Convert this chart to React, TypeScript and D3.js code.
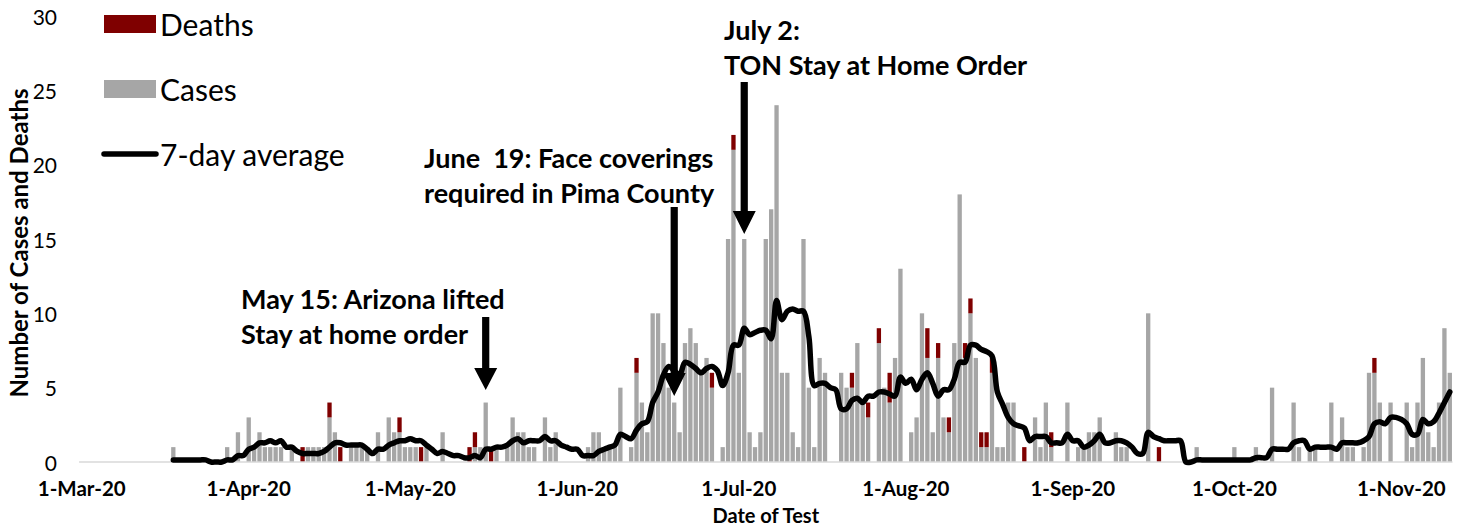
import React from "react";
import * as d3 from "d3";

// ---------- DATA ----------
const START_DATE = new Date(2020, 2, 1); // 1-Mar-20, index 0

// daily cases, index 0 = 1-Mar-20 ... index 254 = 10-Nov-20
const cases = [
  0, 0, 0, 0, 0, 0, 0, 0, 0, 0,
  0, 0, 0, 0, 0, 0, 0, 1, 0, 0,
  0, 0, 0, 0, 0, 0, 0, 1, 0, 2,
  0, 3, 1, 2, 1, 1, 1, 1, 0, 1,
  0, 0, 1, 1, 1, 1, 3, 2, 0, 0,
  1, 1, 1, 1, 0, 2, 0, 3, 2, 2,
  1, 1, 1, 0, 1, 0, 0, 2, 0, 0,
  0, 0, 0, 1, 1, 4, 0, 1, 0, 1,
  3, 2, 2, 1, 1, 0, 3, 1, 2, 0,
  0, 0, 0, 0, 1, 2, 2, 1, 1, 1,
  5, 0, 1, 6, 4, 2, 10, 10, 8, 5,
  4, 2, 8, 9, 8, 6, 7, 5, 0, 1,
  15, 21, 6, 15, 2, 1, 2, 15, 17, 24,
  6, 6, 2, 1, 15, 5, 1, 7, 6, 0,
  0, 6, 5, 5, 8, 4, 3, 0, 8, 5,
  4, 7, 13, 0, 2, 3, 10, 7, 2, 7,
  3, 2, 8, 18, 7, 10, 7, 1, 1, 6,
  1, 1, 4, 4, 0, 0, 0, 3, 1, 4,
  1, 0, 0, 4, 0, 1, 1, 2, 2, 3,
  0, 0, 2, 1, 1, 0, 0, 0, 10, 0,
  0, 0, 0, 0, 0, 0, 0, 1, 0, 0,
  0, 0, 0, 0, 1, 0, 0, 0, 1, 0,
  0, 5, 0, 0, 0, 4, 1, 0, 1, 1,
  0, 0, 4, 0, 3, 1, 1, 0, 1, 6,
  6, 4, 0, 4, 0, 0, 4, 1, 4, 7,
  2, 1, 4, 9, 6,
];

// daily deaths, same indexing
const deaths = [
  0, 0, 0, 0, 0, 0, 0, 0, 0, 0,
  0, 0, 0, 0, 0, 0, 0, 0, 0, 0,
  0, 0, 0, 0, 0, 0, 0, 0, 0, 0,
  0, 0, 0, 0, 0, 0, 0, 0, 0, 0,
  0, 1, 0, 0, 0, 0, 1, 0, 1, 0,
  0, 0, 0, 0, 0, 0, 0, 0, 0, 1,
  0, 0, 0, 1, 0, 0, 0, 0, 0, 0,
  0, 0, 1, 1, 0, 0, 1, 0, 0, 0,
  0, 0, 0, 0, 0, 0, 0, 0, 0, 0,
  0, 0, 0, 0, 0, 0, 0, 0, 0, 0,
  0, 0, 0, 1, 0, 0, 0, 0, 0, 0,
  0, 0, 0, 0, 0, 0, 0, 1, 0, 0,
  0, 1, 0, 0, 0, 0, 0, 0, 0, 0,
  0, 0, 0, 0, 0, 0, 0, 0, 0, 0,
  0, 0, 0, 1, 0, 0, 1, 0, 1, 0,
  2, 0, 0, 0, 0, 0, 0, 2, 0, 1,
  0, 1, 0, 0, 1, 1, 0, 1, 1, 1,
  0, 0, 0, 0, 0, 1, 0, 0, 0, 0,
  1, 0, 0, 0, 0, 0, 0, 0, 0, 0,
  0, 0, 0, 0, 0, 0, 0, 0, 0, 0,
  1, 0, 0, 0, 0, 0, 0, 0, 0, 0,
  0, 0, 0, 0, 0, 0, 0, 0, 0, 0,
  0, 0, 0, 0, 0, 0, 0, 0, 0, 0,
  0, 0, 0, 0, 0, 0, 0, 0, 0, 0,
  1, 0, 0, 0, 0, 0, 0, 0, 0, 0,
  0, 0, 0, 0, 0,
];

// 7-day average line, starting at index 17 (18-Mar-20)
const AVG_FIRST_INDEX = 17;
const sevenDayAverage = [
  0.14, 0.14, 0.14,
  0.14, 0.14, 0.14, 0.14, 0, 0, 0, 0.14, 0.14, 0.43,
  0.43, 0.86, 1.0, 1.29, 1.29, 1.43, 1.29, 1.43, 1.0, 1.0,
  0.71, 0.57, 0.57, 0.57, 0.57, 0.71, 1.0, 1.29, 1.29, 1.14,
  1.14, 1.14, 1.14, 0.86, 0.57, 0.86, 0.86, 1.14, 1.29, 1.43,
  1.43, 1.57, 1.43, 1.43, 1.14, 0.86, 0.57, 0.71, 0.57, 0.43,
  0.43, 0.29, 0.29, 0.43, 0.29, 0.86, 0.86, 1.0, 1.0, 1.14,
  1.43, 1.57, 1.29, 1.43, 1.43, 1.43, 1.71, 1.43, 1.43, 1.14,
  1.0, 0.86, 0.86, 0.43, 0.43, 0.43, 0.71, 0.86, 1.0, 1.14,
  1.86, 1.71, 1.57, 2.14, 2.57, 2.71, 4.0, 4.71, 5.86, 6.43,
  6.14, 5.86, 6.71, 6.57, 6.29, 6.0, 6.29, 6.43, 6.14, 5.14,
  6.0, 7.86, 7.86, 9.0, 8.57, 8.71, 8.86, 8.86, 8.29, 10.86,
  9.57, 10.14, 10.29, 10.14, 10.14, 8.43, 5.14, 5.29, 5.29, 5.0,
  4.86, 3.57, 3.57, 4.14, 4.29, 4.0, 4.43, 4.43, 4.71, 4.71,
  4.57, 4.43, 5.71, 5.29, 5.57, 4.86, 5.57, 6.0, 5.29, 4.43,
  4.86, 4.86, 5.57, 6.71, 6.71, 7.86, 7.86, 7.57, 7.43, 7.14,
  4.71, 3.86, 3.0, 2.57, 2.43, 2.29, 1.43, 1.71, 1.71, 1.71,
  1.29, 1.29, 1.29, 1.86, 1.43, 1.43, 1.0, 1.14, 1.43, 1.86,
  1.29, 1.29, 1.43, 1.43, 1.29, 1.0, 0.57, 0.57, 2.0, 1.71,
  1.57, 1.43, 1.43, 1.43, 1.43, 0, 0, 0.14, 0.14, 0.14,
  0.14, 0.14, 0.14, 0.14, 0.14, 0.14, 0.14, 0.14, 0.29, 0.29,
  0.29, 0.86, 0.86, 0.86, 0.86, 1.29, 1.43, 1.43, 0.86, 1.0,
  1.0, 1.0, 1.0, 0.86, 1.29, 1.29, 1.29, 1.29, 1.43, 1.71,
  2.57, 2.71, 2.57, 3.0, 3.0, 2.86, 2.57, 1.86, 1.86, 2.86,
  2.57, 2.71, 3.29, 4.0, 4.71,
];

const yTickValues = [0, 5, 10, 15, 20, 25, 30];
const monthLabelDates = [
  new Date(2020, 2, 1), new Date(2020, 3, 1), new Date(2020, 4, 1),
  new Date(2020, 5, 1), new Date(2020, 6, 1), new Date(2020, 7, 1),
  new Date(2020, 8, 1), new Date(2020, 9, 1), new Date(2020, 10, 1),
];
const legendLabels = ["Deaths", "Cases", "7-day average"];
const annotationDates = [new Date(2020, 4, 15), new Date(2020, 5, 19), new Date(2020, 6, 2)];
const annotationTexts = [
  ["May 15: Arizona lifted", "Stay at home order"],
  ["June  19: Face coverings", "required in Pima County"],
  ["July 2:", "TON Stay at Home Order"],
];
const xAxisTitle = "Date of Test";
const yAxisTitle = "Number of Cases and Deaths";

// ---------- STYLE ----------
const CASE_COLOR = "#A6A6A6";
const DEATH_COLOR = "#7F0000";
const FONT = "Lato, 'Open Sans', sans-serif";

export default function App() {
  const W = 1464;
  const H = 529;
  const plotLeft = 79.06;
  const plotRight = 1452.5;
  const plotBottom = 462;
  const plotTop = 16;

  const indices = cases.map((_, i) => i);
  const x = d3
    .scaleBand<number>()
    .domain(indices)
    .range([plotLeft, plotRight])
    .paddingInner(0.2)
    .paddingOuter(0.1);
  const bw = x.bandwidth();
  const cx = (i: number) => (x(i) as number) + bw / 2;
  const dayIndex = (d: Date) => d3.timeDay.count(START_DATE, d);

  const y = d3.scaleLinear().domain([0, 30]).range([plotBottom, plotTop]);

  const line = d3
    .line<number>()
    .x((_, k) => cx(AVG_FIRST_INDEX + k))
    .y((v) => y(v))
    .curve(d3.curveCatmullRom.alpha(0.5));

  const fmt = d3.timeFormat("%-d-%b-%y");

  // layout of annotations: text left, first baseline, arrow top, head base, tip
  const annLayout = [
    { textX: 241, baseline: 309, top: 317, headBase: 368, tip: 390 },
    { textX: 424, baseline: 168, top: 207, headBase: 373, tip: 396 },
    { textX: 724, baseline: 40, top: 82, headBase: 211, tip: 234 },
  ];

  const arrowPath = (ax: number, top: number, headBase: number, tip: number) => {
    const sw = 3.6;
    const hw = 11.5;
    return `M${ax - sw},${top} L${ax + sw},${top} L${ax + sw},${headBase} L${ax + hw},${headBase} L${ax},${tip} L${ax - hw},${headBase} L${ax - sw},${headBase} Z`;
  };

  const legendY = [24, 89, 154];

  return (
    <svg
      width={W}
      height={H}
      style={{ position: "absolute", left: 0, top: 0, background: "#fff" }}
      fontFamily={FONT}
    >
      <rect x={0} y={0} width={W} height={H} fill="#fff" />

      {/* bars: cases */}
      <g>
        {cases.map((c, i) =>
          c > 0 ? (
            <rect
              key={"c" + i}
              x={x(i)}
              y={y(c)}
              width={bw}
              height={y(0) - y(c)}
              fill={CASE_COLOR}
            />
          ) : null
        )}
      </g>
      {/* bars: deaths stacked on cases */}
      <g>
        {deaths.map((d, i) =>
          d > 0 ? (
            <rect
              key={"d" + i}
              x={x(i)}
              y={y(cases[i] + d)}
              width={bw}
              height={y(cases[i]) - y(cases[i] + d)}
              fill={DEATH_COLOR}
            />
          ) : null
        )}
      </g>

      {/* x axis line */}
      <line x1={plotLeft} x2={plotRight} y1={plotBottom} y2={plotBottom} stroke="#D9D9D9" strokeWidth={1.5} />

      {/* 7-day average */}
      <path
        d={line(sevenDayAverage) || ""}
        fill="none"
        stroke="#000"
        strokeWidth={5.5}
        strokeLinejoin="round"
        strokeLinecap="round"
      />

      {/* y tick labels */}
      <g fontSize={21} fill="#000">
        {yTickValues.map((v) => (
          <text key={v} x={57} y={y(v)} textAnchor="end" dominantBaseline="central">
            {v}
          </text>
        ))}
      </g>

      {/* x tick labels */}
      <g fontSize={20.5} fontWeight="bold" fill="#000">
        {monthLabelDates.map((d) => (
          <text key={+d} x={cx(dayIndex(d))} y={496} textAnchor="middle">
            {fmt(d)}
          </text>
        ))}
      </g>

      {/* axis titles */}
      <text x={(plotLeft + plotRight) / 2} y={523} textAnchor="middle" fontSize={20} fontWeight="bold">
        {xAxisTitle}
      </text>
      <text
        transform={`translate(28,${(plotTop + plotBottom) / 2 + 4}) rotate(-90)`}
        textAnchor="middle"
        fontSize={24}
        fontWeight="bold"
      >
        {yAxisTitle}
      </text>

      {/* legend */}
      <g>
        <rect x={104} y={legendY[0] - 9} width={52} height={18} fill={DEATH_COLOR} />
        <rect x={104} y={legendY[1] - 9} width={52} height={18} fill={CASE_COLOR} />
        <line x1={104} x2={156} y1={legendY[2]} y2={legendY[2]} stroke="#000" strokeWidth={5.5} strokeLinecap="round" />
        {legendLabels.map((t, k) => (
          <text key={t} x={160} y={legendY[k]} dominantBaseline="central" fontSize={30}>
            {t}
          </text>
        ))}
      </g>

      {/* annotations */}
      {annotationDates.map((d, k) => {
        const L = annLayout[k];
        const ax = cx(dayIndex(d));
        return (
          <g key={k}>
            {annotationTexts[k].map((t, j) => (
              <text
                key={j}
                x={L.textX}
                y={L.baseline + j * 35}
                fontSize={27}
                fontWeight="bold"
                style={{ whiteSpace: "pre" }}
              >
                {t}
              </text>
            ))}
            <path d={arrowPath(ax, L.top, L.headBase, L.tip)} fill="#000" />
          </g>
        );
      })}
    </svg>
  );
}
